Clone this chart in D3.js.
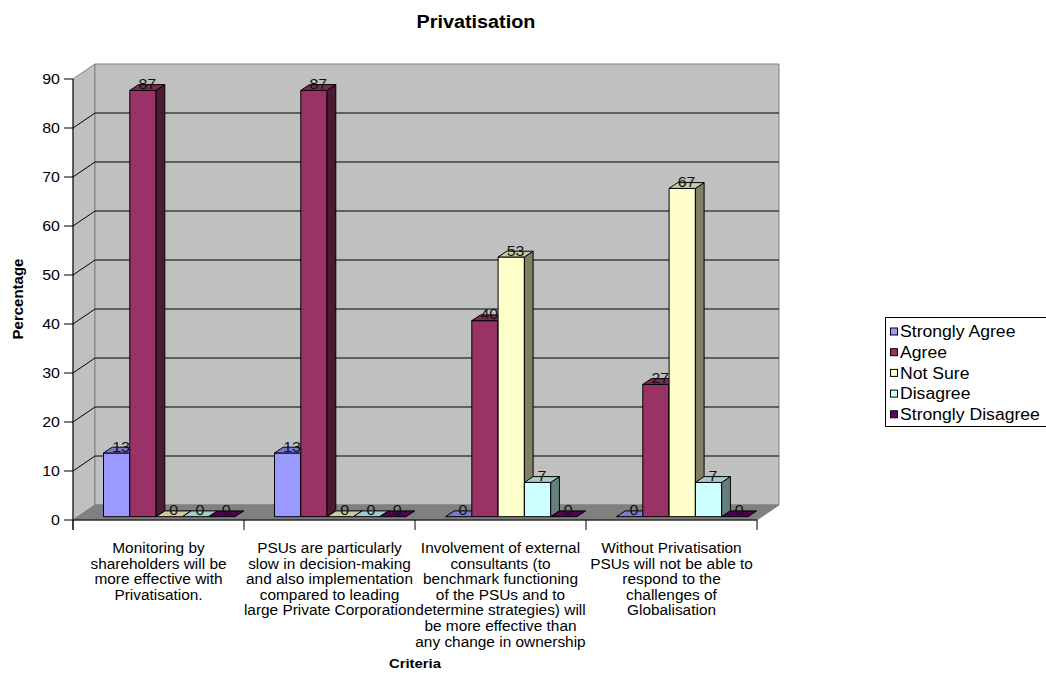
<!DOCTYPE html>
<html>
<head>
<meta charset="utf-8">
<script src="https://cdn.jsdelivr.net/npm/d3@7"></script>
<style>
  html, body { margin: 0; padding: 0; background: #fff; }
  svg text { font-family: Arial, "Liberation Sans", sans-serif; }
</style>
</head>
<body>
<svg id="chart" width="1046" height="673"></svg>
<script>
// Survey responses on privatisation (percentage of respondents)
const categories = [
  ["Monitoring by", "shareholders will be", "more effective with", "Privatisation."],
  ["PSUs are particularly", "slow in decision-making", "and also implementation", "compared to leading", "large Private Corporation"],
  ["Involvement of external", "consultants (to", "benchmark functioning", "of the PSUs and to", "determine strategies) will", "be more effective than", "any change in ownership"],
  ["Without Privatisation", "PSUs will not be able to", "respond to the", "challenges of", "Globalisation"]
];
const seriesNames = ["Strongly Agree", "Agree", "Not Sure", "Disagree", "Strongly Disagree"];
const stronglyAgree    = [13, 13, 0, 0];
const agree            = [87, 87, 40, 27];
const notSure          = [0, 0, 53, 67];
const disagree         = [0, 0, 7, 7];
const stronglyDisagree = [0, 0, 0, 0];
const seriesValues = [stronglyAgree, agree, notSure, disagree, stronglyDisagree];
const seriesColors = ["#9999FF", "#993366", "#FFFFCC", "#CCFFFF", "#660066"];
const yTicks = [0, 10, 20, 30, 40, 50, 60, 70, 80, 90];

const svg = d3.select("#chart");

// text in this chart is set slightly wide
const WIDEN = 1.1;
function widen(sel) {
  sel.each(function () {
    const len = this.getComputedTextLength();
    if (len > 0) {
      this.setAttribute("textLength", (len * WIDEN).toFixed(2));
      this.setAttribute("lengthAdjust", "spacingAndGlyphs");
    }
  });
  return sel;
}

// plot frame (front plane) and 3D depth
const plotLeft = 73, plotRight = 757, plotBottom = 520, plotTop = 79;
const wall = { dx: 22, dy: -15 };          // full depth of floor / walls
const barOff = { dx: 4.5, dy: -3.3 };      // bar front face offset into depth
const barDepth = { dx: 8.7, dy: -5.8 };    // bar thickness along depth

const y = d3.scaleLinear().domain([0, 90]).range([plotBottom, plotTop]);
const x = d3.scaleBand().domain(d3.range(categories.length)).range([plotLeft, plotRight]).padding(0);
const xs = d3.scaleBand().domain(seriesNames).range([26, 157.5]).padding(0);

const pts = a => a.map(p => p.join(",")).join(" ");
const shade = (c, k) => { const r = d3.rgb(c); return d3.rgb(r.r * k, r.g * k, r.b * k).formatHex(); };

// left wall
svg.append("polygon")
  .attr("points", pts([[plotLeft, y(0)], [plotLeft + wall.dx, y(0) + wall.dy], [plotLeft + wall.dx, y(90) + wall.dy], [plotLeft, y(90)]]))
  .attr("fill", "#C0C0C0").attr("stroke", "#808080");
// back wall
svg.append("polygon")
  .attr("points", pts([[plotLeft + wall.dx, y(0) + wall.dy], [plotRight + wall.dx, y(0) + wall.dy], [plotRight + wall.dx, y(90) + wall.dy], [plotLeft + wall.dx, y(90) + wall.dy]]))
  .attr("fill", "#C0C0C0").attr("stroke", "#808080");
// floor
svg.append("polygon")
  .attr("points", pts([[plotLeft, y(0)], [plotRight, y(0)], [plotRight + wall.dx, y(0) + wall.dy], [plotLeft + wall.dx, y(0) + wall.dy]]))
  .attr("fill", "#808080").attr("stroke", "#808080");

// gridlines on side and back walls
svg.append("g").selectAll("polyline")
  .data(yTicks.filter(t => t > 0 && t < 90))
  .join("polyline")
  .attr("points", t => pts([[plotLeft, y(t)], [plotLeft + wall.dx, y(t) + wall.dy], [plotRight + wall.dx, y(t) + wall.dy]]))
  .attr("fill", "none").attr("stroke", "#000").attr("stroke-width", 1);

// bars
const bars = [];
categories.forEach((c, ci) => {
  seriesNames.forEach((s, si) => {
    bars.push({ ci, si, v: seriesValues[si][ci] });
  });
});
const gBars = svg.append("g").attr("stroke", "#000").attr("stroke-width", 1).attr("stroke-linejoin", "round");
bars.forEach(b => {
  const x0 = x(b.ci) + xs(seriesNames[b.si]) + barOff.dx;
  const x1 = x0 + xs.bandwidth();
  const yb = y(0) + barOff.dy;
  const yt = y(b.v) + barOff.dy;
  const col = seriesColors[b.si];
  const g = gBars.append("g");
  if (b.v > 0) {
    g.append("polygon").attr("points", pts([[x0, yb], [x1, yb], [x1, yt], [x0, yt]])).attr("fill", col);
    g.append("polygon").attr("points", pts([[x1, yb], [x1 + barDepth.dx, yb + barDepth.dy], [x1 + barDepth.dx, yt + barDepth.dy], [x1, yt]])).attr("fill", shade(col, 0.5));
  }
  g.append("polygon").attr("points", pts([[x0, yt], [x1, yt], [x1 + barDepth.dx, yt + barDepth.dy], [x0 + barDepth.dx, yt + barDepth.dy]])).attr("fill", shade(col, 0.8));
});

// value labels
svg.append("g").selectAll("text").data(bars).join("text")
  .attr("x", b => x(b.ci) + xs(seriesNames[b.si]) + barOff.dx + xs.bandwidth() / 2 + barDepth.dx / 2)
  .attr("y", b => y(b.v) + barOff.dy - 1.5)
  .attr("text-anchor", "middle")
  .attr("font-size", 14.5).attr("fill", "#111")
  .text(b => b.v)
  .call(widen);

// value axis
const gy = svg.append("g");
gy.append("line").attr("x1", plotLeft).attr("x2", plotLeft).attr("y1", y(90)).attr("y2", y(0) + 10).attr("stroke", "#000");
gy.selectAll("line.tick").data(yTicks).join("line").attr("class", "tick")
  .attr("x1", plotLeft - 9).attr("x2", plotLeft).attr("y1", d => y(d)).attr("y2", d => y(d)).attr("stroke", "#000");
gy.selectAll("text").data(yTicks).join("text")
  .attr("x", plotLeft - 13).attr("y", d => y(d)).attr("dy", "0.35em")
  .attr("text-anchor", "end").attr("font-size", 14.5).text(d => d)
  .call(widen);

// category axis
const gx = svg.append("g");
gx.append("line").attr("x1", plotLeft).attr("x2", plotRight).attr("y1", y(0)).attr("y2", y(0)).attr("stroke", "#000");
gx.selectAll("line.tick").data(d3.range(categories.length + 1)).join("line").attr("class", "tick")
  .attr("x1", i => plotLeft + i * x.step()).attr("x2", i => plotLeft + i * x.step())
  .attr("y1", y(0)).attr("y2", y(0) + 10).attr("stroke", "#000");
const catLines = [];
categories.forEach((lines, ci) => lines.forEach((t, li) => catLines.push({ ci, li, t })));
gx.selectAll("text").data(catLines).join("text")
  .attr("x", d => x(d.ci) + x.bandwidth() / 2)
  .attr("y", d => 553 + d.li * 15.6)
  .attr("text-anchor", "middle").attr("font-size", 14)
  .text(d => d.t)
  .call(widen);

// titles
svg.append("text").attr("x", 476).attr("y", 28).attr("text-anchor", "middle")
  .attr("font-size", 18).attr("font-weight", "bold").text("Privatisation").call(widen);
svg.append("text").attr("x", 415).attr("y", 668).attr("text-anchor", "middle")
  .attr("font-size", 13.5).attr("font-weight", "bold").text("Criteria").call(widen);
svg.append("text").attr("transform", "translate(23,299) rotate(-90)").attr("text-anchor", "middle")
  .attr("font-size", 15).attr("font-weight", "bold").text("Percentage");

// legend
const lg = svg.append("g").attr("transform", "translate(885.5,317.5)");
lg.append("rect").attr("x", 0).attr("y", 0).attr("width", 170).attr("height", 109)
  .attr("fill", "#fff").attr("stroke", "#000");
const li = lg.selectAll("g.item").data(seriesNames).join("g").attr("class", "item")
  .attr("transform", (d, i) => `translate(0,${14 + i * 20.7})`);
li.append("rect").attr("x", 5).attr("y", -3.5).attr("width", 7).attr("height", 7)
  .attr("fill", (d, i) => seriesColors[i]).attr("stroke", "#000");
li.append("text").attr("x", 14.5).attr("y", 0).attr("dy", "0.36em").attr("font-size", 16).text(d => d)
  .call(widen);
</script>
</body>
</html>
